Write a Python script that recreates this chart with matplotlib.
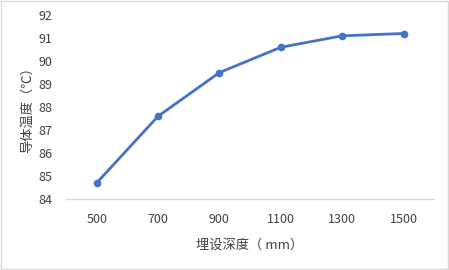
import matplotlib
matplotlib.use("Agg")
import matplotlib.pyplot as plt
from matplotlib.patches import Rectangle

plt.rcParams['font.family'] = ['Noto Sans CJK SC', 'DejaVu Sans']

# 数据
depth = ["500", "700", "900", "1100", "1300", "1500"]
temp = [84.7, 87.6, 89.5, 90.6, 91.1, 91.2]
yticks = [84, 85, 86, 87, 88, 89, 90, 91, 92]

fig = plt.figure(figsize=(4.49, 2.70), dpi=100)
ax = fig.add_axes([0.147, 0.263, 0.820, 0.681])

x = list(range(len(depth)))
ax.plot(x, temp, color='#4472C4', lw=2, marker='o', markersize=4.5)

ax.set_xlim(-0.5, len(depth) - 0.5)
ax.set_ylim(84, 92)
ax.set_xticks(x)
ax.set_xticklabels(depth)
ax.set_yticks(yticks)

for s in ['top', 'right', 'left']:
    ax.spines[s].set_visible(False)
ax.spines['bottom'].set_color('#D9D9D9')
ax.spines['bottom'].set_linewidth(1)
ax.tick_params(axis='both', length=0, labelsize=9, colors='#404040')
ax.tick_params(axis='x', pad=10)
ax.tick_params(axis='y', pad=10)

ax.set_xlabel('埋设深度（ mm）', fontsize=9.5, color='#404040', labelpad=9)
ax.set_ylabel('导体温度（℃）', fontsize=9.5, color='#404040', labelpad=3)

# 外框
fig.patches.append(Rectangle((0.002, 0.004), 0.995, 0.992, transform=fig.transFigure,
                             fill=False, edgecolor='#D9D9D9', lw=1))

fig.savefig('out.png', dpi=100)
